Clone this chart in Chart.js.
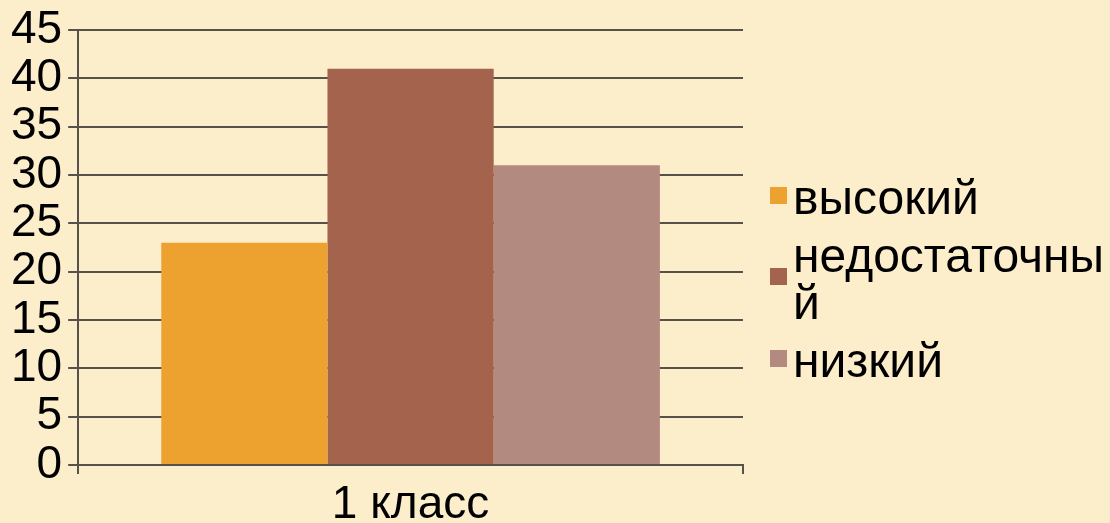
<!DOCTYPE html>
<html lang="ru">
<head>
<meta charset="UTF-8">
<title>1 класс</title>
<script src="https://cdn.jsdelivr.net/npm/chart.js"></script>
<style>
body {
    margin: 0;
    background-color: #fcedcb;
    font-family: "Liberation Sans", Arial, sans-serif;
}
.wrap {
    position: relative;
    width: 1110px;
    height: 523px;
}
#legend {
    position: absolute;
    left: 770px;
    top: 174px;
}
.legend-item {
    display: flex;
    align-items: center;
    margin-bottom: 11px;
}
.legend-box {
    width: 17px;
    height: 17px;
    margin-right: 6px;
    margin-top: -5px;
    flex: none;
}
.legend-text {
    width: 330px;
    font-size: 48px;
    line-height: 47px;
    color: #000;
    word-break: break-all;
}
</style>
</head>
<body>
<div class="wrap">
    <canvas id="chart" width="1110" height="523"></canvas>
    <div id="legend"></div>
</div>

<script>
// данные
const categories = ['1 класс'];
const seriesNames = ['высокий', 'недостаточный', 'низкий'];
const seriesValues = [[23], [41], [31]];
const seriesColors = ['#eda22f', '#a4634d', '#b38a7f'];
const yTicks = [0, 5, 10, 15, 20, 25, 30, 35, 40, 45];

const gridColor = '#56524a';
const labelFont = '"Liberation Sans", Arial, sans-serif';

const ctx = document.getElementById('chart').getContext('2d');
const chart = new Chart(ctx, {
    type: 'bar',
    data: {
        labels: categories,
        datasets: seriesNames.map((name, i) => ({
            label: name,
            data: seriesValues[i],
            backgroundColor: seriesColors[i],
            borderWidth: 0,
            categoryPercentage: 0.75,
            barPercentage: 1
        }))
    },
    options: {
        responsive: false,
        animation: false,
        layout: {
            padding: { left: 5, right: 367, top: 30, bottom: 0 }
        },
        plugins: {
            legend: { display: false },
            tooltip: { enabled: false }
        },
        scales: {
            x: {
                afterFit: axis => { axis.height = 58; },
                grid: {
                    drawOnChartArea: false,
                    drawTicks: true,
                    tickLength: 9,
                    color: gridColor,
                    lineWidth: 2
                },
                border: { color: gridColor, width: 2 },
                ticks: {
                    color: '#000',
                    padding: 8,
                    font: { family: labelFont, size: 46, lineHeight: 1 }
                }
            },
            y: {
                min: 0,
                max: 45,
                afterBuildTicks: axis => {
                    axis.ticks = yTicks.map(v => ({ value: v }));
                },
                grid: {
                    color: gridColor,
                    lineWidth: 2,
                    tickLength: 10
                },
                border: { color: gridColor, width: 2 },
                ticks: {
                    autoSkip: false,
                    color: '#000',
                    padding: 6,
                    font: { family: labelFont, size: 46, lineHeight: 1 }
                }
            }
        }
    }
});

// легенда
const legend = document.getElementById('legend');
seriesNames.forEach((name, i) => {
    const item = document.createElement('div');
    item.className = 'legend-item';
    const box = document.createElement('span');
    box.className = 'legend-box';
    box.style.backgroundColor = seriesColors[i];
    const text = document.createElement('span');
    text.className = 'legend-text';
    text.textContent = name;
    item.appendChild(box);
    item.appendChild(text);
    legend.appendChild(item);
});
</script>
</body>
</html>
